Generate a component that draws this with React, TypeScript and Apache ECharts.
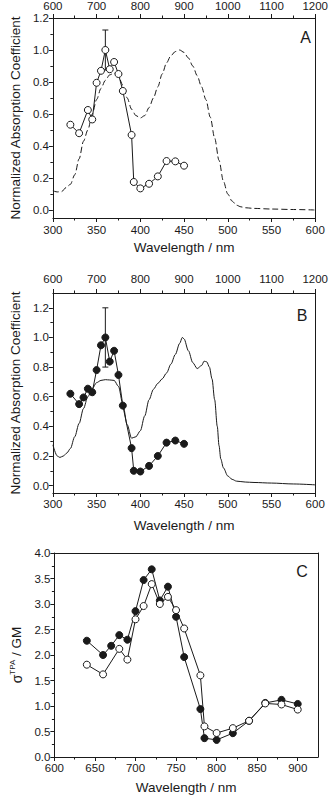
import React, { useEffect, useRef } from "react";
import * as echarts from "echarts";

// ---------- Panel A ----------
const aWavelengths = [320, 330, 340, 345, 350, 355, 360, 365, 370, 375, 380, 390, 392.5, 400, 410, 420, 430, 440, 450];
const aValues = [0.533, 0.48, 0.625, 0.566, 0.795, 0.87, 1.0, 0.88, 0.925, 0.85, 0.744, 0.469, 0.175, 0.135, 0.164, 0.21, 0.306, 0.304, 0.277];
const aErrorBar = [360, 0.875, 1.125];

const aCurveWl = [300, 305, 310, 315, 320, 325, 330, 335, 340, 345, 350, 355, 360, 365, 370, 375, 380, 385, 390, 395, 400, 405, 410, 415, 420, 425, 430, 435, 440, 445, 450, 455, 460, 465, 470, 475, 480, 485, 490, 495, 500, 505, 510, 515, 520, 530, 550, 575, 600];
const aCurveVals = [0.12, 0.113, 0.115, 0.14, 0.16, 0.22, 0.32, 0.43, 0.5, 0.6, 0.69, 0.76, 0.81, 0.845, 0.855, 0.835, 0.78, 0.7, 0.63, 0.59, 0.575, 0.59, 0.64, 0.7, 0.77, 0.85, 0.92, 0.965, 0.99, 1.0, 0.985, 0.95, 0.9, 0.84, 0.77, 0.69, 0.58, 0.45, 0.31, 0.18, 0.1, 0.055, 0.03, 0.02, 0.014, 0.01, 0.006, 0.003, 0.0];

// ---------- Panel B ----------
const bWavelengths = [320, 330, 335, 340, 345, 350, 355, 360, 365, 370, 375, 380, 390, 392.5, 400, 410, 420, 430, 440, 450];
const bValues = [0.62, 0.55, 0.595, 0.654, 0.63, 0.78, 0.947, 1.0, 0.837, 0.91, 0.747, 0.54, 0.253, 0.1, 0.095, 0.133, 0.2, 0.29, 0.304, 0.282];
const bErrorBar = [360, 0.8, 1.2];

const bCurveWl = [300, 305, 308, 312, 316, 320, 325, 330, 335, 340, 345, 350, 355, 360, 365, 370, 375, 380, 385, 390, 395, 400, 405, 410, 415, 420, 425, 430, 435, 440, 445, 448, 450, 455, 460, 465, 470, 473, 476, 479, 482, 485, 488, 490, 492, 495, 500, 505, 510, 520, 530, 550, 575, 600];
const bCurveVals = [0.275, 0.2, 0.19, 0.2, 0.22, 0.25, 0.33, 0.42, 0.52, 0.6, 0.655, 0.695, 0.71, 0.715, 0.713, 0.71, 0.67, 0.55, 0.41, 0.32, 0.33, 0.37, 0.47, 0.58, 0.65, 0.69, 0.72, 0.76, 0.82, 0.885, 0.96, 1.0, 0.99, 0.91, 0.83, 0.79, 0.81, 0.84, 0.835, 0.8, 0.72, 0.58, 0.4, 0.27, 0.18, 0.12, 0.065, 0.042, 0.03, 0.024, 0.021, 0.017, 0.011, 0.005];

// ---------- Panel C ----------
const cFilledWl = [640, 660, 670, 680, 690, 700, 710, 720, 730, 740, 750, 760, 780, 785, 800, 820, 840, 860, 880, 900];
const cFilledVals = [2.28, 2.0, 2.18, 2.39, 2.3, 2.86, 3.47, 3.68, 3.07, 3.34, 2.75, 1.96, 0.94, 0.37, 0.335, 0.467, 0.71, 1.06, 1.12, 1.04];
const cOpenWl = [640, 660, 680, 690, 700, 710, 720, 730, 740, 750, 760, 780, 785, 800, 820, 840, 860, 880, 900];
const cOpenVals = [1.81, 1.62, 2.12, 1.91, 2.7, 2.96, 3.39, 3.0, 3.14, 2.88, 2.52, 1.6, 0.6, 0.47, 0.566, 0.71, 1.05, 1.03, 0.93];

// ---------- Tick labels ----------
const absYTicks = [0, 0.2, 0.4, 0.6, 0.8, 1.0, 1.2];
const absYMinor = [0.1, 0.3, 0.5, 0.7, 0.9, 1.1];
const lowerXTicks = [300, 350, 400, 450, 500, 550, 600];
const lowerXMinor = [325, 375, 425, 475, 525, 575];
const upperXTicks = [600, 700, 800, 900, 1000, 1100, 1200];
const upperXMinor = [650, 750, 850, 950, 1050, 1150];
const cXTicks = [600, 650, 700, 750, 800, 850, 900];
const cXMinor = [625, 675, 725, 775, 825, 875];
const cYTicks = [0, 0.5, 1.0, 1.5, 2.0, 2.5, 3.0, 3.5, 4.0];
const cYMinor = [0.25, 0.75, 1.25, 1.75, 2.25, 2.75, 3.25, 3.75];

const FONT = "'Liberation Sans', Arial, sans-serif";
const INK = "#1a1a1a";

const zip = (xs: number[], ys: number[]) => xs.map((x, i) => [x, ys[i]]);

export default function App() {
  const ref = useRef<HTMLDivElement>(null);

  useEffect(() => {
    document.body.style.margin = "0";
    if (!ref.current) return;
    const chart = echarts.init(ref.current, undefined, { renderer: "svg" });

    const grids = [
      { left: 46, top: 17, width: 272, height: 201 },
      { left: 46, top: 293, width: 272, height: 200 },
      { left: 46, top: 553, width: 272, height: 204 },
    ];

    const fmt1 = (v: number) => v.toFixed(1);
    const fmtInt = (v: number) => String(Math.round(v));
    const lineStyle = { color: INK, width: 1 };

    const xAxes: any[] = [];
    const yAxes: any[] = [];

    const majorX = (grid: number, pos: string, min: number, max: number, ticks: number[], showLabel: boolean, margin: number, name?: string, nameGap?: number) => ({
      type: "value",
      gridIndex: grid,
      position: pos,
      min,
      max,
      name: name || "",
      nameLocation: "middle",
      nameGap: nameGap || 0,
      nameTextStyle: { fontFamily: FONT, fontSize: 13.5, color: INK },
      axisLine: { show: true, onZero: false, lineStyle },
      axisTick: { show: ticks.length > 0, customValues: ticks, length: 4, inside: false, lineStyle },
      axisLabel: { show: showLabel, customValues: ticks, margin, fontFamily: FONT, fontSize: 11.5, color: INK, formatter: fmtInt },
      splitLine: { show: false },
    });
    const minorX = (grid: number, pos: string, min: number, max: number, ticks: number[]) => ({
      type: "value",
      gridIndex: grid,
      position: pos,
      min,
      max,
      axisLine: { show: false, onZero: false },
      axisTick: { show: true, customValues: ticks, length: 2.5, inside: false, lineStyle },
      axisLabel: { show: false, customValues: ticks },
      splitLine: { show: false },
    });
    const majorY = (grid: number, pos: string, min: number, max: number, ticks: number[], showLabel: boolean, formatter: any, name?: any, nameGap?: number, rich?: any) => ({
      type: "value",
      gridIndex: grid,
      position: pos,
      min,
      max,
      name: name || "",
      nameLocation: "middle",
      nameGap: nameGap || 0,
      nameTextStyle: { fontFamily: FONT, fontSize: 13.5, color: INK, rich },
      axisLine: { show: true, onZero: false, lineStyle },
      axisTick: { show: ticks.length > 0, customValues: ticks, length: 4, inside: false, lineStyle },
      axisLabel: { show: showLabel, customValues: ticks, margin: 4, fontFamily: FONT, fontSize: 11.5, color: INK, formatter },
      splitLine: { show: false },
    });
    const minorY = (grid: number, min: number, max: number, ticks: number[]) => ({
      type: "value",
      gridIndex: grid,
      position: "left",
      min,
      max,
      axisLine: { show: false, onZero: false },
      axisTick: { show: true, customValues: ticks, length: 2.5, inside: false, lineStyle },
      axisLabel: { show: false, customValues: ticks },
      splitLine: { show: false },
    });

    // Grid 0 (A)
    xAxes.push(majorX(0, "bottom", 300, 600, lowerXTicks, true, 6, "Wavelength / nm", 22)); // 0
    xAxes.push(majorX(0, "top", 600, 1200, upperXTicks, true, 6)); // 1
    xAxes.push(minorX(0, "bottom", 300, 600, lowerXMinor)); // 2
    xAxes.push(minorX(0, "top", 600, 1200, upperXMinor)); // 3
    yAxes.push(majorY(0, "left", -0.05, 1.2, absYTicks, true, fmt1, "Normalized Absorption Coefficient", 30)); // 0
    yAxes.push(majorY(0, "right", -0.05, 1.2, [], false, fmt1)); // 1
    yAxes.push(minorY(0, -0.05, 1.2, absYMinor)); // 2

    // Grid 1 (B)
    xAxes.push(majorX(1, "bottom", 300, 600, lowerXTicks, true, 5, "Wavelength / nm", 25)); // 4
    xAxes.push(majorX(1, "top", 600, 1200, upperXTicks, true, 8)); // 5
    xAxes.push(minorX(1, "bottom", 300, 600, lowerXMinor)); // 6
    xAxes.push(minorX(1, "top", 600, 1200, upperXMinor)); // 7
    yAxes.push(majorY(1, "left", -0.05, 1.3, absYTicks, true, fmt1, "Normalized Absorption Coefficient", 30)); // 3
    yAxes.push(majorY(1, "right", -0.05, 1.3, [], false, fmt1)); // 4
    yAxes.push(minorY(1, -0.05, 1.3, absYMinor)); // 5

    // Grid 2 (C)
    xAxes.push(majorX(2, "bottom", 600, 925, cXTicks, true, 5, "Wavelength / nm", 23)); // 8
    xAxes.push(majorX(2, "top", 600, 925, [], false, 0)); // 9
    xAxes.push(minorX(2, "bottom", 600, 925, cXMinor)); // 10
    yAxes.push(
      majorY(2, "left", 0, 4, cYTicks, true, fmt1, "{s|σ}{sup|TPA}{n| / GM}", 26, {
        s: { fontFamily: FONT, fontSize: 14, color: INK },
        sup: { fontFamily: FONT, fontSize: 8, color: INK, padding: [0, 0, 9, 0] },
        n: { fontFamily: FONT, fontSize: 13.5, color: INK },
      })
    ); // 6
    yAxes.push(majorY(2, "right", 0, 4, [], false, fmt1)); // 7
    yAxes.push(minorY(2, 0, 4, cYMinor)); // 8

    const errorSeries = (xi: number, yi: number, bar: number[]) => ({
      type: "custom",
      xAxisIndex: xi,
      yAxisIndex: yi,
      z: 1,
      data: [bar],
      renderItem: (_p: any, api: any) => {
        const x = api.value(0);
        const lo = api.coord([x, api.value(1)]);
        const hi = api.coord([x, api.value(2)]);
        const cap = 3;
        const st = { stroke: INK, lineWidth: 1 };
        return {
          type: "group",
          children: [
            { type: "line", shape: { x1: lo[0], y1: lo[1], x2: hi[0], y2: hi[1] }, style: st },
            { type: "line", shape: { x1: hi[0] - cap, y1: hi[1], x2: hi[0] + cap, y2: hi[1] }, style: st },
            { type: "line", shape: { x1: lo[0] - cap, y1: lo[1], x2: lo[0] + cap, y2: lo[1] }, style: st },
          ],
        };
      },
    });

    const curve = (xi: number, yi: number, xs: number[], ys: number[], dashed: boolean) => ({
      type: "line",
      xAxisIndex: xi,
      yAxisIndex: yi,
      data: zip(xs, ys),
      showSymbol: false,
      smooth: 0.3,
      smoothMonotone: "x",
      z: 2,
      lineStyle: { color: INK, width: 1, type: dashed ? [6, 3] : "solid" },
    });

    const points = (xi: number, yi: number, xs: number[], ys: number[], filled: boolean, z: number) => ({
      type: "line",
      xAxisIndex: xi,
      yAxisIndex: yi,
      data: zip(xs, ys),
      symbol: "circle",
      symbolSize: 7,
      z,
      lineStyle: { color: INK, width: 1 },
      itemStyle: { color: filled ? INK : "#ffffff", borderColor: INK, borderWidth: 1 },
    });

    const option: any = {
      animation: false,
      grid: grids,
      xAxis: xAxes,
      yAxis: yAxes,
      series: [
        curve(0, 0, aCurveWl, aCurveVals, true),
        errorSeries(0, 0, aErrorBar),
        points(0, 0, aWavelengths, aValues, false, 3),
        curve(4, 3, bCurveWl, bCurveVals, false),
        errorSeries(4, 3, bErrorBar),
        points(4, 3, bWavelengths, bValues, true, 3),
        points(8, 6, cFilledWl, cFilledVals, true, 3),
        points(8, 6, cOpenWl, cOpenVals, false, 4),
      ],
      graphic: [
        { type: "text", x: 305.5, y: 37, style: { text: "A", fontFamily: FONT, fontSize: 16, fill: INK, align: "center", verticalAlign: "middle" } },
        { type: "text", x: 302, y: 315, style: { text: "B", fontFamily: FONT, fontSize: 16, fill: INK, align: "center", verticalAlign: "middle" } },
        { type: "text", x: 302, y: 571, style: { text: "C", fontFamily: FONT, fontSize: 16, fill: INK, align: "center", verticalAlign: "middle" } },
      ],
    };

    chart.setOption(option);
    return () => chart.dispose();
  }, []);

  return <div ref={ref} style={{ width: 331, height: 796 }} />;
}
